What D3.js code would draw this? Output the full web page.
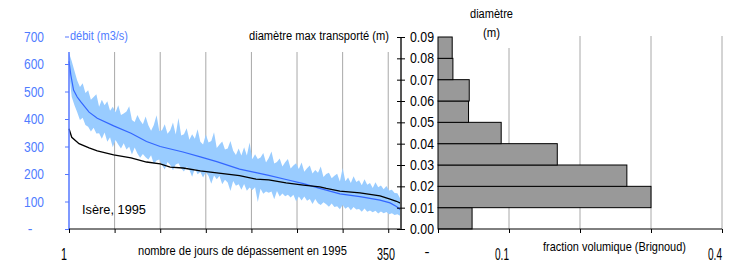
<!DOCTYPE html>
<html>
<head>
<meta charset="utf-8">
<script src="https://cdn.jsdelivr.net/npm/d3@7"></script>
<style>
  body { margin: 0; background: #fff; }
  svg { display: block; }
  text { font-family: "Liberation Sans", Arial, sans-serif; }
</style>
</head>
<body>
<svg id="chart" width="744" height="265"></svg>
<script>
// débit classé (m3/s), ligne moyenne
const meanDays = [1, 3, 6, 10, 14, 23, 32, 50, 69, 86, 101, 126, 145, 163, 188, 206, 220, 239, 258, 276, 298, 320, 342, 353, 360, 365];
const meanFlow = [610, 560, 505, 480, 462, 425, 403, 375, 348, 318, 300, 280, 262, 245, 218, 205, 195, 180, 165, 148, 128, 118, 105, 95, 82, 68];

// enveloppe des débits journaliers (bande bleu clair), un point tous les 3 jours
const bandDays = [1, 4, 7, 10, 13, 16, 19, 22, 25, 28, 31, 34, 37, 40, 43, 46, 49, 52, 55, 58,
  61, 64, 67, 70, 73, 76, 79, 82, 85, 88, 91, 94, 97, 100, 103, 106, 109, 112, 115, 118,
  121, 124, 127, 130, 133, 136, 139, 142, 145, 148, 151, 154, 157, 160, 163, 166, 169, 172, 175, 178,
  181, 184, 187, 190, 193, 196, 199, 202, 205, 208, 211, 214, 217, 220, 223, 226, 229, 232, 235, 238,
  241, 244, 247, 250, 253, 256, 259, 262, 265, 268, 271, 274, 277, 280, 283, 286, 289, 292, 295, 298,
  301, 304, 307, 310, 313, 316, 319, 322, 325, 328, 331, 334, 337, 340, 343, 346, 349, 352, 355, 358,
  361, 364, 365];
const bandHigh = [640, 610, 575, 540, 516, 530, 495, 505, 470, 480, 490, 445, 470, 450, 465, 430, 445, 425, 450, 415,
  420, 427, 446, 396, 389, 415, 395, 381, 409, 377, 357, 378, 414, 356, 359, 381, 346, 359, 387, 344,
  404, 340, 345, 366, 325, 345, 328, 363, 317, 307, 344, 315, 320, 352, 295, 307, 318, 289, 293, 320,
  285, 269, 293, 267, 297, 267, 315, 254, 272, 255, 260, 276, 242, 258, 282, 238, 244, 256, 227, 243,
  255, 220, 231, 239, 218, 242, 208, 221, 231, 202, 215, 205, 227, 189, 200, 205, 185, 194, 201, 173,
  222, 174, 187, 167, 192, 171, 177, 159, 181, 161, 167, 149, 170, 152, 158, 145, 156, 140, 143, 131,
  130, 112, 100];
const bandLow = [570, 480, 450, 425, 396, 405, 378, 372, 355, 368, 347, 348, 328, 351, 317, 334, 297, 324, 307, 293,
  312, 289, 299, 271, 296, 275, 259, 273, 261, 253, 268, 236, 249, 253, 233, 216, 244, 233, 214, 235,
  239, 220, 209, 226, 215, 190, 220, 199, 207, 187, 206, 193, 165, 195, 181, 193, 163, 179, 169, 138,
  175, 157, 163, 143, 164, 139, 151, 142, 152, 98, 146, 128, 136, 132, 136, 108, 138, 118, 129, 119,
  125, 115, 125, 101, 118, 104, 118, 103, 109, 91, 109, 94, 87, 97, 90, 81, 93, 80, 83, 72,
  87, 74, 81, 68, 80, 71, 73, 63, 75, 63, 67, 61, 66, 56, 64, 57, 62, 54, 57, 51,
  54, 48, 48];

// diamètre max transporté (m)
const diamDays = [1, 4, 12, 23, 32, 50, 69, 86, 101, 112, 126, 145, 163, 188, 206, 220, 239, 258, 276, 283, 298, 320, 342, 353, 360, 365];
const diamMax = [0.047, 0.043, 0.040, 0.038, 0.0366, 0.0347, 0.0333, 0.0314, 0.0305, 0.029, 0.0286, 0.0272, 0.0263, 0.025, 0.0234, 0.023, 0.0216, 0.0206, 0.0197, 0.019, 0.0178, 0.0169, 0.0155, 0.014, 0.013, 0.012];

// granulométrie (Brignoud)
const binLow = [0, 0.01, 0.02, 0.03, 0.04, 0.05, 0.06, 0.07, 0.08];
const fraction = [0.048, 0.30, 0.266, 0.168, 0.089, 0.043, 0.044, 0.021, 0.020];

const flowTicks = [0, 100, 200, 300, 400, 500, 600, 700];
const diamTicks = [0, 0.01, 0.02, 0.03, 0.04, 0.05, 0.06, 0.07, 0.08, 0.09];
const dayGrid = [1, 51, 101, 151, 201, 251, 301, 351];
const fracTicks = [0, 0.1, 0.2, 0.3, 0.4];

const blueText = '#4f7cff';
const gridColor = '#a8a8a8';

const svg = d3.select('#chart');

const x = d3.scaleLinear().domain([1, 365]).range([69, 401]);
const yQ = d3.scaleLinear().domain([0, 700]).range([229, 36.5]);
const yD = d3.scaleLinear().domain([0, 0.09]).range([229, 37]);
const xF = d3.scaleLinear().domain([0, 0.4]).range([438, 722]);

// text squeezed horizontally to the width read on the picture (narrow font look)
const label = (tx, ty, str, opts = {}) => {
    const g = svg.append('g');
    const t = g.append('text')
        .attr('fill', opts.color || '#000')
        .style('font-size', (opts.size || 13.5) + 'px')
        .text(str);
    const len = t.node().getComputedTextLength();
    const w = opts.w || len;
    let left = tx;
    if (opts.anchor === 'end') left = tx - w;
    if (opts.anchor === 'middle') left = tx - w / 2;
    g.attr('transform', `translate(${left},${ty}) scale(${w / len},1)`);
    return g;
};

// grid lines
svg.append('g').selectAll('line').data(dayGrid.slice(1)).join('line')
    .attr('x1', d => x(d)).attr('x2', d => x(d))
    .attr('y1', 52).attr('y2', 229)
    .attr('stroke', gridColor).attr('stroke-width', 1);

svg.append('g').selectAll('line').data(fracTicks.slice(1)).join('line')
    .attr('x1', d => xF(d)).attr('x2', d => xF(d))
    .attr('y1', 36).attr('y2', 229)
    .attr('stroke', gridColor).attr('stroke-width', 1);

// band
const band = bandDays.map((d, i) => ({ d, hi: bandHigh[i], lo: bandLow[i] }));
svg.append('path')
    .datum(band)
    .attr('fill', '#99ccff')
    .attr('d', d3.area().x(p => x(p.d)).y0(p => yQ(p.lo)).y1(p => yQ(p.hi)));

// mean flow line
svg.append('path')
    .datum(meanDays.map((d, i) => [d, meanFlow[i]]))
    .attr('fill', 'none')
    .attr('stroke', '#3366ff')
    .attr('stroke-width', 1.2)
    .attr('d', d3.line().x(p => x(p[0])).y(p => yQ(p[1])));

// diameter line
svg.append('path')
    .datum(diamDays.map((d, i) => [d, diamMax[i]]))
    .attr('fill', 'none')
    .attr('stroke', '#000')
    .attr('stroke-width', 1.3)
    .attr('d', d3.line().x(p => x(p[0])).y(p => yD(p[1])));

// left axis (débit)
const axL = svg.append('g').attr('transform', `translate(${x(1)},0)`)
    .call(d3.axisLeft(yQ).tickValues(flowTicks).tickSize(4).tickFormat(''));
axL.select('.domain').remove();
axL.append('line').attr('y1', 52).attr('y2', 229).attr('stroke', '#5577ff').attr('stroke-width', 1.5);
axL.selectAll('.tick line').attr('stroke', '#5577ff');
flowTicks.forEach(v => {
    if (v === 0) label(30, yQ(v) + 5, '-', { anchor: 'middle', size: 14, color: blueText });
    else label(44, yQ(v) + 5, String(v), { anchor: 'end', size: 14, w: 20, color: blueText });
});

// bottom axis (jours)
const axB = svg.append('g').attr('transform', 'translate(0,229)')
    .call(d3.axisBottom(x).tickValues(dayGrid).tickSize(4).tickFormat(''));
axB.select('.domain').attr('d', `M${x(1)},0H${x(365)}`).attr('stroke', '#000');

// right axis (diamètre)
const axR = svg.append('g').attr('transform', `translate(${x(365)},0)`)
    .call(d3.axisRight(yD).tickValues(diamTicks).tickSize(4).tickFormat(''));
axR.select('.domain').attr('d', `M0,${yD(0.09)}V${yD(0)}`).attr('stroke', '#555').attr('stroke-width', 2);
axR.selectAll('.tick line').attr('x1', -4).attr('stroke', '#000');
diamTicks.forEach(v => label(410, yD(v) + 5, d3.format('.2f')(v), { size: 14, w: 24 }));

// bars
svg.append('g').selectAll('rect').data(binLow).join('rect')
    .attr('x', xF(0))
    .attr('y', d => yD(d + 0.01))
    .attr('width', (d, i) => xF(fraction[i]) - xF(0))
    .attr('height', d => yD(d) - yD(d + 0.01))
    .attr('fill', '#999999')
    .attr('stroke', '#000')
    .attr('stroke-width', 1);

// bottom axis (fraction)
const axF = svg.append('g').attr('transform', 'translate(0,229)')
    .call(d3.axisBottom(xF).tickValues(fracTicks).tickSize(4).tickFormat(''));
axF.select('.domain').attr('d', `M${xF(0)},0H${xF(0.4)}`).attr('stroke', '#000');

// titles and remaining tick labels
label(70, 40, 'débit (m3/s)', { color: blueText, w: 58 });
label(249, 40, 'diamètre max transporté (m)', { w: 140 });
svg.append('rect').attr('x', 466).attr('y', 0).attr('width', 52).attr('height', 48).attr('fill', '#fff');
label(470, 18, 'diamètre', { w: 43 });
label(483, 37, '(m)', { w: 17 });
label(82, 214, 'Isère, 1995', { w: 64 });
label(61, 260, '1', { size: 16.5, w: 6 });
label(138, 255, 'nombre de jours de dépassement en 1995', { w: 209 });
label(377, 260, '350', { size: 16.5, w: 18 });
label(427, 257, '-', { anchor: 'middle', size: 15 });
label(495, 260, '0.1', { size: 16.5, w: 14 });
label(543, 251, 'fraction volumique (Brignoud)', { w: 143 });
label(708, 260, '0.4', { size: 16.5, w: 14 });
</script>
</body>
</html>
